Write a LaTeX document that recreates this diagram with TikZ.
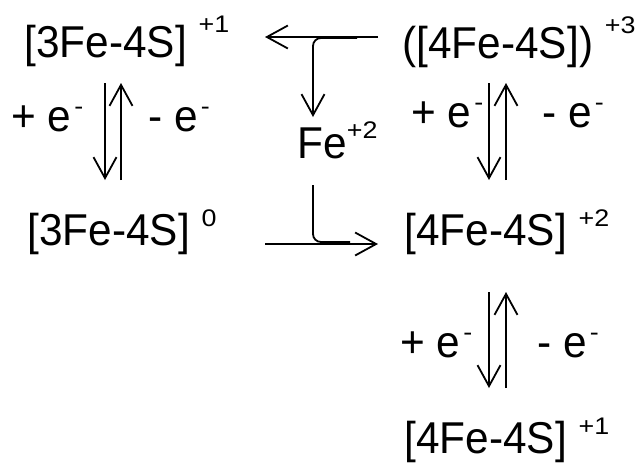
\documentclass[tikz,border=0pt]{standalone}
\usepackage{fontspec}
\setmainfont{Liberation Sans}[FakeStretch=0.95]
\newfontfamily\supfont{Liberation Sans}[FakeStretch=1.12]
\usetikzlibrary{arrows.meta}
\tikzset{
  rxn/.style={-{Straight Barb[length=10.5pt,width=11.5pt]},line width=0.9pt},
  branch/.style={line width=0.9pt,rounded corners=4pt},
  species/.style={anchor=base west,inner sep=0pt,font=\fontsize{22.3}{27}\selectfont},
}
\newcommand{\chg}[2][9.5pt]{\ \raisebox{#1}{\supfont\fontsize{12}{14}\selectfont #2}}
\newcommand{\elec}[1]{#1 e\kern1.5pt\raisebox{8.5pt}{\supfont\fontsize{12}{14}\selectfont -}}

\begin{document}
\begin{tikzpicture}[x=0.5pt,y=-0.5pt]
  \useasboundingbox (0,0) rectangle (643,462);
  \node[species] (c3ox) at (24,57) {[3Fe-4S]\chg[12.5pt]{+1}};
  \node[species] (c3red) at (27,245) {[3Fe-4S]\chg{0}};
  \node[species] (c4ox) at (402,58) {([4Fe-4S])\chg[12.5pt]{+3}};
  \node[species] (c4mid) at (404,245) {[4Fe-4S]\chg{+2}};
  \node[species] (c4red) at (404,453) {[4Fe-4S]\chg{+1}};
  \node[species] (fe) at (297,158) {Fe\raisebox{10pt}{\supfont\fontsize{12}{14}\selectfont +2}};
  \node[species] (ladd) at (11,131) {\elec{+}};
  \node[species] (lrem) at (148,131) {\elec{-}};
  \node[species] (radd) at (411,127) {\elec{+}};
  \node[species] (rrem) at (542,127) {\elec{-}};
  \node[species] (badd) at (400,357) {\elec{+}};
  \node[species] (brem) at (537,357) {\elec{-}};
  \draw[rxn] ([shift={(81,26)}]c3ox.base west) -- ([shift={(78,-65)}]c3red.base west);
  \draw[rxn] ([shift={(94,-65)}]c3red.base west) -- ([shift={(97,26)}]c3ox.base west);
  \draw[rxn] ([shift={(87,25)}]c4ox.base west) -- ([shift={(85,-65)}]c4mid.base west);
  \draw[rxn] ([shift={(102,-65)}]c4mid.base west) -- ([shift={(104,25)}]c4ox.base west);
  \draw[rxn] ([shift={(85,47)}]c4mid.base west) -- ([shift={(85,-65)}]c4red.base west);
  \draw[rxn] ([shift={(102,-65)}]c4red.base west) -- ([shift={(102,47)}]c4mid.base west);
  \draw[rxn] ([shift={(-24,-21)}]c4ox.base west) -- ([shift={(241,-20)}]c3ox.base west);
  \draw[rxn,rounded corners=4pt] ([shift={(-45,-20)}]c4ox.base west) -| ([shift={(16,-41)}]fe.base west);
  \draw[rxn] ([shift={(238,-1)}]c3red.base west) -- ([shift={(-26,-1)}]c4mid.base west);
  \draw[branch] ([shift={(16,27)}]fe.base west) |- ([shift={(-54,-3)}]c4mid.base west);
\end{tikzpicture}
\end{document}
